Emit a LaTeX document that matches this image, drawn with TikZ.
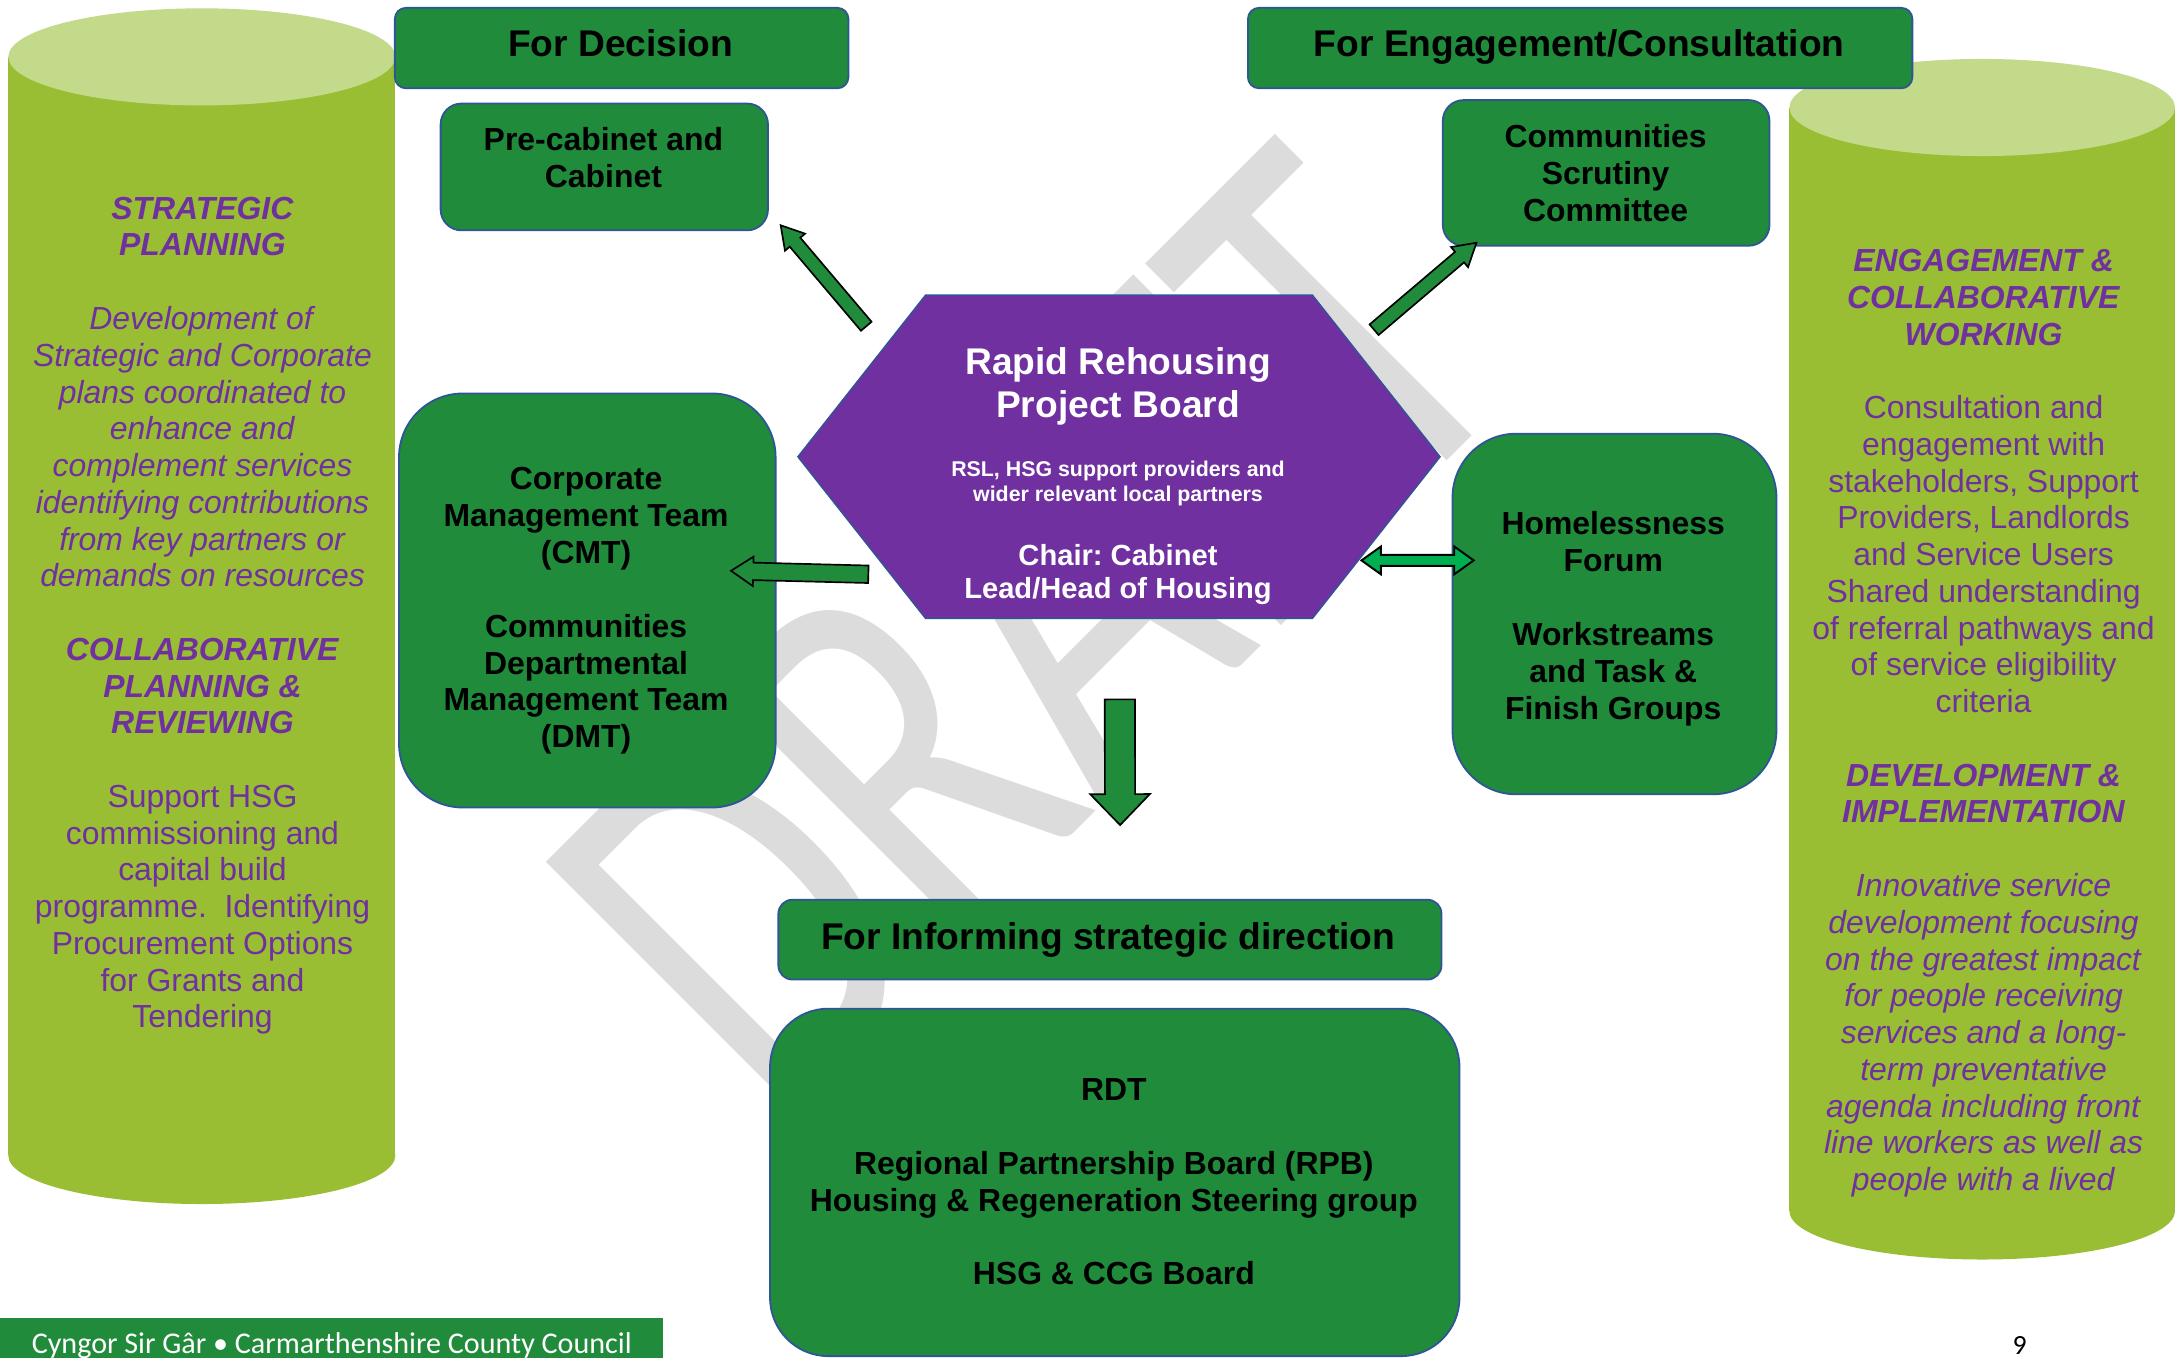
\documentclass[tikz,border=0pt]{standalone}
\usepackage{fontspec}
\setmainfont{Liberation Sans}
\newfontfamily\wmfont{Carlito}[FakeStretch=0.72]
\newfontfamily\footfont{Carlito}
\usetikzlibrary{calc}
\frenchspacing
\definecolor{boxgreen}{RGB}{31,139,59}
\definecolor{boxline}{RGB}{47,85,151}
\definecolor{hexpurple}{RGB}{112,48,160}
\definecolor{txtpurple}{RGB}{112,48,160}
\definecolor{cylbody}{RGB}{153,190,51}
\definecolor{cyltop}{RGB}{195,218,139}
\definecolor{dblgreen}{RGB}{0,176,80}
\definecolor{wmgray}{RGB}{220,220,220}
\definecolor{footgreen}{RGB}{33,139,60}
\newcommand{\bi}[1]{\textbf{\textit{#1}}}
% block arrow: #1 tail, #2 tip, #3 shaft half width, #4 head half width, #5 head length, #6 style
\newcommand{\blockarrow}[6]{%
  \coordinate (bah) at ($(#2)!#5!(#1)$);
  \path[#6] ($(#1)!#3!90:(#2)$) -- ($(bah)!#3!90:(#2)$) -- ($(bah)!#4!90:(#2)$) -- (#2)
    -- ($(bah)!#4!-90:(#2)$) -- ($(bah)!#3!-90:(#2)$) -- ($(#1)!#3!-90:(#2)$) -- cycle;}
% double block arrow: #1 tip A, #2 tip B
\newcommand{\dblarrow}[6]{%
  \coordinate (dha) at ($(#1)!#5!(#2)$);
  \coordinate (dhb) at ($(#2)!#5!(#1)$);
  \path[#6] (#1) -- ($(dha)!#4!90:(#2)$) -- ($(dha)!#3!90:(#2)$) -- ($(dhb)!#3!-90:(#1)$)
    -- ($(dhb)!#4!-90:(#1)$) -- (#2) -- ($(dhb)!#4!90:(#1)$) -- ($(dhb)!#3!90:(#1)$)
    -- ($(dha)!#3!-90:(#2)$) -- ($(dha)!#4!-90:(#2)$) -- cycle;}
\tikzset{
  gbox/.style={draw=boxline, line width=1.3pt, fill=boxgreen, rounded corners=#1, inner sep=0pt, anchor=north west},
  boxtxt/.style={font=\fontsize{23}{26.6}\selectfont\bfseries, align=center, inner sep=0pt, text=black},
  headtxt/.style={font=\fontsize{26.8}{31}\selectfont\bfseries, align=center, inner sep=0pt, text=black},
  coltxt/.style={font=\fontsize{23}{26.5}\selectfont, align=center, inner sep=0pt, text=txtpurple},
  hextxt/.style={align=center, inner sep=0pt, text=white},
  barrow/.style={fill=boxgreen, draw=black, line width=1.2pt, line join=miter},
  darrow/.style={fill=dblgreen, draw=black, line width=1.4pt, line join=miter},
}
\begin{document}
\begin{tikzpicture}[x=1pt,y=-1pt]
\useasboundingbox (0,0) rectangle (1568,979);
\fill[white] (0,0) rectangle (1568,979);

% watermark
\node[anchor=base west, rotate=45, inner sep=0pt, text=wmgray,
      font=\wmfont\fontsize{396}{400}\selectfont] (draft) at (560,815) {DRAFT};

% cylinders
\fill[cylbody] (6,41) rectangle (285,833);
\fill[cylbody] (145.5,833) ellipse [x radius=139.5pt, y radius=35pt];
\fill[cyltop] (145.5,41) ellipse [x radius=139.5pt, y radius=35pt];
\fill[cylbody] (1290,77.5) rectangle (1568,873);
\fill[cylbody] (1429,873) ellipse [x radius=139pt, y radius=35pt];
\fill[cyltop] (1429,77.5) ellipse [x radius=139pt, y radius=35pt];

% column texts
\node[coltxt] (lcol) at (146,443.9) {\bi{STRATEGIC}\\\bi{PLANNING}\\[26.5pt]%
\textit{Development of}\\\textit{Strategic and Corporate}\\\textit{plans coordinated to}\\%
\textit{enhance and}\\\textit{complement services}\\\textit{identifying contributions}\\%
\textit{from key partners or}\\\textit{demands on resources}\\[26.5pt]%
\bi{COLLABORATIVE}\\\bi{PLANNING \&}\\\bi{REVIEWING}\\[26.5pt]%
Support HSG\\commissioning and\\capital build\\programme.\ \ Identifying\\%
Procurement Options\\for Grants and\\Tendering};

\node[coltxt] (rcol) at (1430,521.4) {\bi{ENGAGEMENT \&}\\\bi{COLLABORATIVE}\\\bi{WORKING}\\[26.5pt]%
Consultation and\\engagement with\\stakeholders, Support\\Providers, Landlords\\%
and Service Users\\Shared understanding\\of referral pathways and\\of service eligibility\\%
criteria\\[26.5pt]\bi{DEVELOPMENT \&}\\\bi{IMPLEMENTATION}\\[26.5pt]%
\textit{Innovative service}\\\textit{development focusing}\\\textit{on the greatest impact}\\%
\textit{for people receiving}\\\textit{services and a long-}\\\textit{term preventative}\\%
\textit{agenda including front}\\\textit{line workers as well as}\\\textit{people with a lived}};

% boxes
\node[gbox=8pt, minimum width=327pt, minimum height=58pt] (dec) at (284,5) {};
\node[gbox=8pt, minimum width=479pt, minimum height=58pt] (eng) at (899,5) {};
\node[gbox=15pt, minimum width=236pt, minimum height=91.4pt] (pre) at (317,74) {};
\node[gbox=15pt, minimum width=235.5pt, minimum height=105pt] (csc) at (1039.5,71.5) {};
\node[gbox=46pt, minimum width=271.5pt, minimum height=298.5pt] (cmt) at (287,283) {};
\node[gbox=46pt, minimum width=233.5pt, minimum height=260pt] (hf) at (1046.5,312) {};
\node[gbox=10pt, minimum width=478pt, minimum height=57.5pt] (fis) at (560.5,648) {};
\node[gbox=42pt, minimum width=497pt, minimum height=250.5pt] (bot) at (554.5,726.5) {};

\node[headtxt] (dec-t) at (447.5,31) {For Decision};
\node[headtxt] (eng-t) at (1138.5,33.8) {For Engagement/Consultation};
\node[boxtxt] (pre-t) at (435,113.5) {Pre-cabinet and\\Cabinet};
\node[boxtxt] (csc-t) at (1157.5,125) {Communities\\Scrutiny\\Committee};
\node[boxtxt] (cmt-t) at (422.5,440.4) {Corporate\\Management Team\\(CMT)\\[26.6pt]Communities\\Departmental\\Management Team\\(DMT)};
\node[boxtxt] (hf-t) at (1163,445.9) {Homelessness\\Forum\\[26.6pt]Workstreams\\and Task \&\\Finish Groups};
\node[headtxt] (fis-t) at (799,677.8) {For Informing strategic direction};
\node[boxtxt] (bot-t) at (803,852) {RDT\\[26.6pt]Regional Partnership Board (RPB)\\Housing \& Regeneration Steering group\\[26.6pt]HSG \& CCG Board};

% hexagon board
\node[minimum width=462.6pt, minimum height=232.6pt, inner sep=0pt] (board) at (806.7,329.3) {};
\fill[hexpurple, draw=boxline, line width=1pt] (board.west) -- ([xshift=92pt]board.north west) -- ([xshift=-92pt]board.north east)
  -- (board.east) -- ([xshift=-92pt]board.south east) -- ([xshift=92pt]board.south west) -- cycle;
\node[hextxt, font=\fontsize{26.8}{31}\selectfont\bfseries] (board-title) at (806,278.3) {Rapid Rehousing\\Project Board};
\node[hextxt, font=\fontsize{15.4}{18}\selectfont\bfseries] (board-members) at (806,348.6) {RSL, HSG support providers and\\wider relevant local partners};
\node[hextxt, font=\fontsize{21}{24}\selectfont\bfseries] (board-chair) at (806,414.2) {Chair: Cabinet\\Lead/Head of Housing};

% arrows
\coordinate (a1s) at (624.5,235.2);
\coordinate (a1e) at (562.8,162.4);
\coordinate (a2s) at (990.6,237.7);
\coordinate (a2e) at (1064.4,175);
\coordinate (a3s) at (626,414);
\coordinate (a3e) at (527,411.5);
\coordinate (a4s) at (981.5,404);
\coordinate (a4e) at (1062.4,404);
\coordinate (a5s) at (807.3,504.2);
\coordinate (a5e) at (807.5,594.8);
\blockarrow{a1s}{a1e}{5pt}{9.5pt}{16pt}{barrow}
\blockarrow{a2s}{a2e}{5pt}{9.5pt}{16pt}{barrow}
\blockarrow{a3s}{a3e}{6.3pt}{10.6pt}{16pt}{barrow}
\dblarrow{a4s}{a4e}{4pt}{10pt}{14pt}{darrow}
\blockarrow{a5s}{a5e}{10.9pt}{21.5pt}{22.3pt}{barrow}

% footer
\node[fill=footgreen, text=white, minimum width=478pt, minimum height=40pt, anchor=north west, inner sep=0pt,
      font=\footfont\fontsize{21.7}{24}\selectfont] (footer) at (0,950) {Cyngor Sir Gâr • Carmarthenshire County Council};
\node[font=\footfont\fontsize{20}{24}\selectfont, inner sep=0pt] (pgnum) at (1456,970) {9};
\end{tikzpicture}
\end{document}
